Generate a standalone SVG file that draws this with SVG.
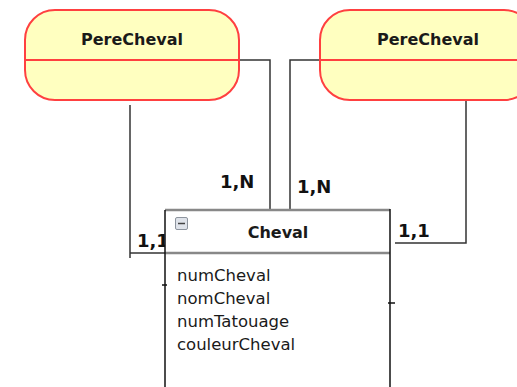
<svg xmlns="http://www.w3.org/2000/svg" width="517" height="387" viewBox="0 0 517 387">
<style>
.ent{fill:#ffffc0;stroke:#ff4040;stroke-width:2}
.div{stroke:#ff4040;stroke-width:2}
.title{font-family:"DejaVu Sans",sans-serif;font-weight:bold;font-size:16px;fill:#1a1a1a;text-anchor:middle}
.card{font-family:"DejaVu Sans",sans-serif;font-weight:bold;font-size:18px;fill:#111}
.attr{font-family:"DejaVu Sans",sans-serif;font-size:16.5px;fill:#1a1a1a}
.conn{fill:none;stroke:#333;stroke-width:1.5}
.hdr{stroke:#888;stroke-width:2.5}
.brd{stroke:#111;stroke-width:1.5}
</style>
<rect width="517" height="387" fill="#fff"/>
<g id="connectors">
<polyline class="conn" points="237,60 270,60 270,210"/>
<polyline class="conn" points="320,60 290,60 290,210"/>
<polyline class="conn" points="130,105 130,258"/>
<polyline class="conn" points="130,253 165,253"/>
<polyline class="conn" points="466,100 466,243 395,243"/>
<text class="card" x="220" y="188">1,N</text>
<text class="card" x="297" y="193">1,N</text>
<text class="card" x="137" y="247">1,1</text>
<text class="card" x="398" y="237">1,1</text>
</g>
<g id="pere1">
<rect class="ent" x="25" y="10" width="214" height="90" rx="30" ry="30"/>
<line class="div" x1="25" y1="60" x2="239" y2="60"/>
<text class="title" x="132" y="45">PereCheval</text>
</g>
<g id="pere2">
<rect class="ent" x="320" y="10" width="214" height="90" rx="30" ry="30"/>
<line class="div" x1="320" y1="60" x2="534" y2="60"/>
<text class="title" x="428" y="45">PereCheval</text>
</g>
<g id="cheval">
<rect x="165" y="210" width="225" height="190" fill="#fff"/>
<line class="hdr" x1="165" y1="210" x2="390" y2="210"/>
<line class="hdr" x1="165" y1="253" x2="390" y2="253"/>
<line class="brd" x1="165" y1="210" x2="165" y2="390"/>
<line class="brd" x1="390" y1="209" x2="390" y2="390"/>
<line class="brd" x1="162" y1="285" x2="167" y2="285"/>
<line class="brd" x1="388" y1="303" x2="395" y2="303"/>
<rect x="175.5" y="217.5" width="12" height="12" rx="1.5" fill="#dfe3ea" stroke="#8d949e" stroke-width="1"/>
<line x1="178" y1="223.5" x2="185" y2="223.5" stroke="#444" stroke-width="1.5"/>
<text class="title" x="278" y="238">Cheval</text>
<text class="attr" x="177" y="281">numCheval</text>
<text class="attr" x="177" y="304">nomCheval</text>
<text class="attr" x="177" y="327">numTatouage</text>
<text class="attr" x="177" y="350">couleurCheval</text>
</g>
</svg>
